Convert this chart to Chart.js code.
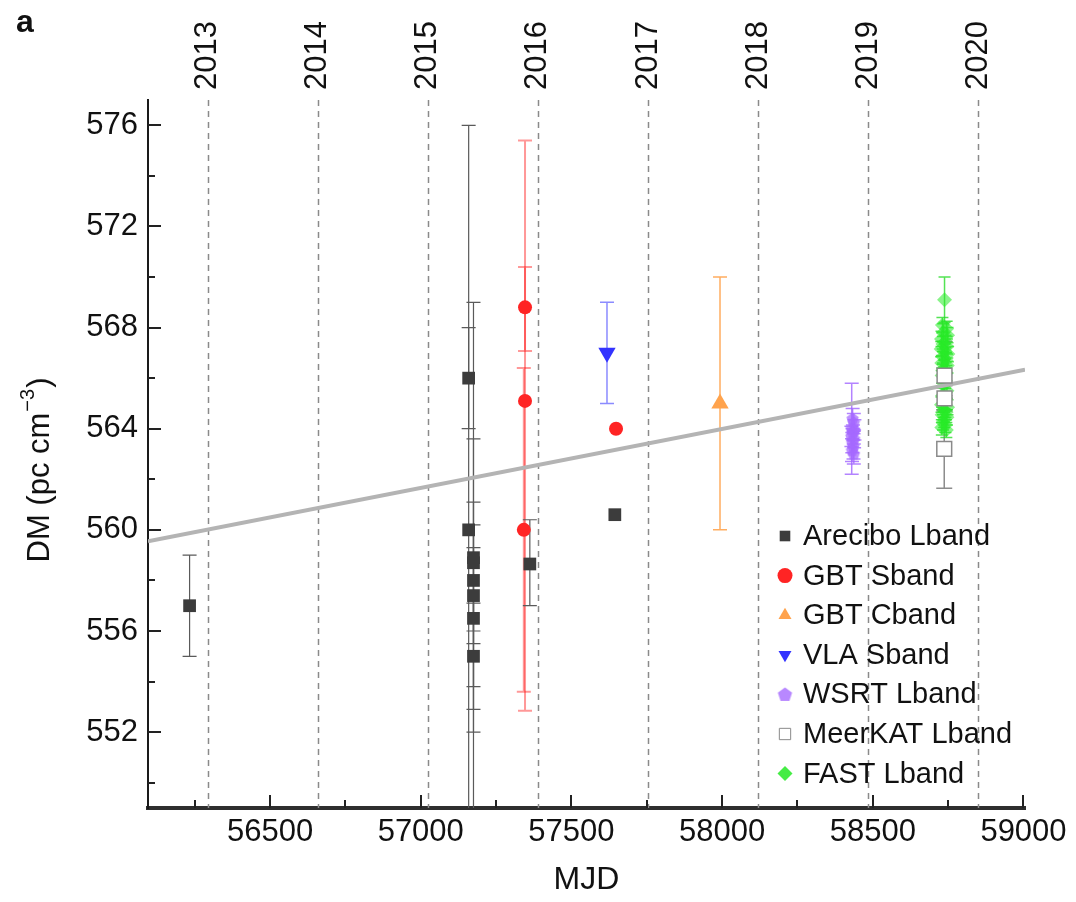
<!DOCTYPE html>
<html><head><meta charset="utf-8">
<script src="https://cdn.jsdelivr.net/npm/chart.js@4.4.0/dist/chart.umd.min.js"></script>
<style>html,body{margin:0;padding:0;background:#fff;}#wrap{width:1076px;height:902px;position:relative;}</style>
</head><body><div id="wrap"><canvas id="c" width="1076" height="902"></canvas></div>
<script>
const FONT = "'Liberation Sans', Arial, Helvetica, sans-serif";

// ---- axes / ticks ----
const yearLabels = ['2013','2014','2015','2016','2017','2018','2019','2020'];
const yearMJD = [56293, 56658, 57023, 57388, 57754, 58119, 58484, 58849];
const xTicks = [56500, 57000, 57500, 58000, 58500, 59000];
const xMinorTicks = [56250, 56750, 57250, 57750, 58250, 58750];
const yTicks = [552, 556, 560, 564, 568, 572, 576];
const yMinorTicks = [550, 554, 558, 562, 566, 570, 574];
const legendLabels = ['Arecibo Lband','GBT Sband','GBT Cband','VLA Sband','WSRT Lband','MeerKAT Lband','FAST Lband'];
const xTitle = 'MJD';
const yTitleMain = 'DM (pc cm';
const yTitleSup = '\u22123';

// ---- data ----
const areciboMJD   = [56233, 57159, 57159, 57175, 57175, 57175, 57175, 57175, 57175, 57362, 57644];
const areciboDM    = [557.0, 566.0, 560.0, 558.9, 558.7, 558.0, 557.4, 556.5, 555.0, 558.65, 560.6];
const areciboErrLo = [2.0, 2.0, 16.0, 5.1, 2.7, 6.0, 1.9, 12.5, 2.1, 1.65, 0];
const areciboErrHi = [2.0, 2.0, 16.0, 4.7, 2.4, 2.2, 1.9, 12.5, 2.1, 1.75, 0];

const gbtSMJD   = [57346, 57346, 57342, 57648];
const gbtSDM    = [568.8, 565.1, 560.0, 564.0];
const gbtSErrLo = [1.73, 12.25, 6.4, 0];
const gbtSErrHi = [1.6, 10.3, 6.4, 0];

const gbtCMJD = [57993];
const gbtCDM  = [565.0];
const gbtCErr = [5.0];

const vlaMJD = [57618];
const vlaDM  = [567.0];
const vlaErr = [2.0];

const wsrtMJD = [58433, 58437, 58430, 58439, 58434, 58429, 58438, 58432, 58436, 58431, 58437];
const wsrtDM  = [564.4, 564.25, 564.0, 563.95, 563.85, 563.7, 563.6, 563.45, 563.3, 563.15, 563.0];
const wsrtErr = [0.4, 0.35, 1.8, 0.4, 0.3, 0.4, 0.35, 0.4, 0.5, 0.45, 0.4];

const meerMJD   = [58738, 58738, 58737];
const meerDM    = [566.1, 565.2, 563.2];
const meerErrLo = [0.8, 0.5, 1.55];
const meerErrHi = [1.35, 0.5, 1.55];

const fastMJD = [58738, 58731, 58745, 58734, 58748, 58728, 58741, 58733, 58746, 58727, 58739, 58749, 58732, 58743, 58729, 58747, 58737, 58733, 58744, 58730,
                 58740, 58735, 58746, 58731, 58738, 58728, 58748, 58735, 58743, 58730, 58746, 58737, 58733, 58741, 58729, 58744];
const fastDM  = [569.1, 568.1, 567.95, 567.8, 567.7, 567.55, 567.45, 567.35, 567.25, 567.15, 567.05, 566.95, 566.85, 566.7, 566.6, 566.5, 566.4, 566.3, 566.2, 566.1,
                 565.9, 565.7, 565.5, 565.3, 565.1, 564.95, 564.85, 564.75, 564.65, 564.55, 564.45, 564.35, 564.25, 564.15, 564.05, 563.95];
const fastErr = [0.9, 0.3, 0.3, 0.35, 0.3, 0.3, 0.25, 0.3, 0.3, 0.3, 0.3, 0.3, 0.3, 0.3, 0.3, 0.3, 0.3, 0.3, 0.3, 0.3,
                 0.3, 0.3, 0.3, 0.3, 0.3, 0.3, 0.3, 0.3, 0.3, 0.3, 0.3, 0.3, 0.3, 0.3, 0.3, 0.3];

const fitMJD = [56095, 59005];
const fitDM  = [559.55, 566.33];

// ---- helpers ----
function pts(xs, ys){ return xs.map((x,i)=>({x:x, y:ys[i]})); }
function pentagon(r, fill){
  const c = document.createElement('canvas');
  const s = Math.ceil(r*2+2); c.width = s; c.height = s;
  const g = c.getContext('2d');
  g.beginPath();
  for (let k=0;k<5;k++){
    const a = -Math.PI/2 + k*2*Math.PI/5;
    const px = s/2 + r*Math.cos(a), py = s/2 + r*Math.sin(a)+0.5;
    if(k===0) g.moveTo(px,py); else g.lineTo(px,py);
  }
  g.closePath(); g.fillStyle = fill; g.fill();
  return c;
}
const pentStyle = pentagon(6.5, 'rgba(165,105,255,0.75)');
const pentLegend = pentagon(7.5, 'rgba(180,130,255,0.95)');

const datasets = [
  {label:legendLabels[5], data:pts(meerMJD, meerDM), pointStyle:'rect', pointRadius:10.5, backgroundColor:'#ffffff', borderColor:'#8a8a8a', borderWidth:1.5,
   errLo:meerErrLo, errHi:meerErrHi, errColor:'#8c8c8c', errWidth:1.5, cap:8, order:1},
  {label:'fit', type:'line', data:pts(fitMJD, fitDM), borderColor:'#b4b4b4', borderWidth:4, pointRadius:0, fill:false, order:2},
  {label:legendLabels[6], data:pts(fastMJD, fastDM), pointStyle:'rectRot', pointRadius:7.5, backgroundColor:'rgba(40,235,40,0.55)', borderWidth:0,
   errLo:fastErr, errHi:fastErr, errColor:'rgba(40,220,40,0.8)', errWidth:1.5, cap:6, order:3},
  {label:legendLabels[4], data:pts(wsrtMJD, wsrtDM), pointStyle:pentStyle, pointRadius:6, backgroundColor:'rgba(165,105,255,0.75)', borderWidth:0,
   errLo:wsrtErr, errHi:wsrtErr, errColor:'rgba(160,100,255,0.8)', errWidth:1.5, cap:7, order:4},
  {label:legendLabels[3], data:pts(vlaMJD, vlaDM), pointStyle:'triangle', rotation:180, pointRadius:10, backgroundColor:'#3333ff', borderWidth:0,
   errLo:vlaErr, errHi:vlaErr, errColor:'rgba(90,90,255,0.7)', errWidth:1.5, cap:7, order:5},
  {label:legendLabels[2], data:pts(gbtCMJD, gbtCDM), pointStyle:'triangle', pointRadius:10, backgroundColor:'#ffa34d', borderWidth:0,
   errLo:gbtCErr, errHi:gbtCErr, errColor:'#ffad60', errWidth:1.5, cap:7, order:6},
  {label:legendLabels[1], data:pts(gbtSMJD, gbtSDM), pointStyle:'circle', pointRadius:7, backgroundColor:'#ff2424', borderWidth:0,
   errLo:gbtSErrLo, errHi:gbtSErrHi, errColor:'rgba(255,10,10,0.42)', errWidth:2, cap:7, order:7},
  {label:legendLabels[0], data:pts(areciboMJD, areciboDM), pointStyle:'rect', pointRadius:9, backgroundColor:'#3c3c3c', borderWidth:0,
   errLo:areciboErrLo, errHi:areciboErrHi, errColor:'#5a5a5a', errWidth:1.2, cap:7, order:8}
];

// ---- plugins ----
const yearPlugin = {
  id:'years',
  beforeDatasetsDraw(chart){
    const {ctx, chartArea:a, scales:{x}} = chart;
    ctx.save();
    ctx.strokeStyle = '#8a8a8a'; ctx.lineWidth = 1.5; ctx.setLineDash([6,5]);
    yearMJD.forEach(m=>{
      const px = Math.round(x.getPixelForValue(m))+0.5;
      ctx.beginPath(); ctx.moveTo(px, a.top); ctx.lineTo(px, a.bottom); ctx.stroke();
    });
    ctx.restore();
  },
  afterDraw(chart){
    const {ctx, chartArea:a, scales:{x}} = chart;
    ctx.save();
    ctx.fillStyle = '#111'; ctx.font = '31px ' + FONT;
    ctx.textAlign = 'left'; ctx.textBaseline = 'middle';
    yearMJD.forEach((m,i)=>{
      const px = x.getPixelForValue(m);
      ctx.save(); ctx.translate(px, 90); ctx.rotate(-Math.PI/2);
      ctx.fillText(yearLabels[i], 0, 0); ctx.restore();
    });
    // y axis title with superscript
    ctx.save();
    ctx.translate(40, 470); ctx.rotate(-Math.PI/2);
    ctx.font = '31px ' + FONT;
    const w1 = ctx.measureText(yTitleMain).width;
    ctx.font = '20px ' + FONT;
    const w2 = ctx.measureText(yTitleSup).width;
    ctx.font = '31px ' + FONT;
    const w3 = ctx.measureText(')').width;
    const tot = w1 + w2 + w3 + 2;
    let sx = -tot/2;
    ctx.textAlign = 'left'; ctx.textBaseline = 'middle';
    ctx.fillText(yTitleMain, sx, 0); sx += w1 + 1;
    ctx.font = '20px ' + FONT; ctx.fillText(yTitleSup, sx, -12); sx += w2 + 1;
    ctx.font = '31px ' + FONT; ctx.fillText(')', sx, 0);
    ctx.restore();
    ctx.font = 'bold 32px ' + FONT; ctx.textAlign='left'; ctx.textBaseline='alphabetic';
    ctx.fillText('a', 16, 32);
    ctx.restore();
  }
};

const errPlugin = {
  id:'errbars',
  beforeDatasetsDraw(chart){
    const {ctx, chartArea:a, scales:{x,y}} = chart;
    ctx.save();
    ctx.beginPath(); ctx.rect(a.left, a.top, a.right-a.left, a.bottom-a.top); ctx.clip();
    chart.data.datasets.forEach(ds=>{
      if(!ds.errLo) return;
      ctx.strokeStyle = ds.errColor; ctx.lineWidth = ds.errWidth;
      ds.data.forEach((p,i)=>{
        const lo = ds.errLo[i], hi = ds.errHi[i];
        if(!lo && !hi) return;
        const px = x.getPixelForValue(p.x);
        const y1 = y.getPixelForValue(p.y + hi), y2 = y.getPixelForValue(p.y - lo);
        ctx.beginPath();
        ctx.moveTo(px, y1); ctx.lineTo(px, y2);
        ctx.moveTo(px-ds.cap, y1); ctx.lineTo(px+ds.cap, y1);
        ctx.moveTo(px-ds.cap, y2); ctx.lineTo(px+ds.cap, y2);
        ctx.stroke();
      });
    });
    ctx.restore();
  }
};

const tickPlugin = {
  id:'innerTicks',
  afterDraw(chart){
    const {ctx, chartArea:a, scales:{x,y}} = chart;
    ctx.save(); ctx.strokeStyle = '#222'; ctx.lineWidth = 2;
    const vt = (v, len)=>{ const px = Math.round(x.getPixelForValue(v)); ctx.beginPath(); ctx.moveTo(px, a.bottom); ctx.lineTo(px, a.bottom-len); ctx.stroke(); };
    const ht = (v, len)=>{ const py = Math.round(y.getPixelForValue(v)); ctx.beginPath(); ctx.moveTo(a.left, py); ctx.lineTo(a.left+len, py); ctx.stroke(); };
    xTicks.forEach(v=>vt(v,13)); xMinorTicks.forEach(v=>vt(v,8));
    yTicks.forEach(v=>ht(v,13)); yMinorTicks.forEach(v=>ht(v,7));
    ctx.restore();
  }
};

const legendPlugin = {
  id:'customLegend',
  afterDraw(chart){
    const {ctx} = chart;
    const order = [7,6,5,4,3,0,2];
    ctx.save();
    ctx.font = '29px ' + FONT; ctx.fillStyle = '#111'; ctx.textBaseline = 'middle'; ctx.textAlign = 'left';
    order.forEach((di,i)=>{
      const ds = chart.data.datasets[di];
      const yy = 536 + i*39.6;
      ctx.save();
      ctx.fillStyle = ds.backgroundColor; ctx.strokeStyle = ds.borderColor || ds.backgroundColor;
      let st = ds.pointStyle, r = 7.5;
      if (di===3) st = pentLegend;
      if (di===2) { ctx.fillStyle = 'rgba(60,235,60,0.95)'; r = 7.5; }
      if (di===0) r = 8;
      Chart.helpers.drawPoint(ctx, {pointStyle:st, radius:r, rotation:ds.rotation||0, borderWidth:ds.borderWidth||0}, 785, yy);
      ctx.restore();
      ctx.fillText(legendLabels[i], 803, yy+1);
    });
    ctx.restore();
  }
};

new Chart(document.getElementById('c'), {
  type:'scatter',
  data:{datasets:datasets},
  options:{
    responsive:false, animation:false, devicePixelRatio:1,
    layout:{padding:{top:100, right:51, left:0, bottom:0}},
    plugins:{legend:{display:false}, tooltip:{enabled:false}},
    scales:{
      x:{type:'linear', position:'bottom', min:56095, max:59005,
         afterBuildTicks:s=>{ s.ticks = xTicks.map(v=>({value:v})); },
         afterFit:s=>{ s.height = 94; },
         grid:{display:false, drawTicks:false},
         border:{display:true, color:'#2e2e2e', width:4},
         ticks:{font:{family:FONT, size:31}, color:'#111', padding:6, maxRotation:0, autoSkip:false, callback:v=>String(v)},
         title:{display:true, text:xTitle, font:{family:FONT, size:32}, color:'#111', padding:{top:0, bottom:3}}},
      y:{type:'linear', min:549, max:577,
         afterBuildTicks:s=>{ s.ticks = yTicks.map(v=>({value:v})); },
         afterFit:s=>{ s.width = 148; },
         grid:{display:false, drawTicks:false},
         border:{display:true, color:'#1a1a1a', width:2},
         ticks:{font:{family:FONT, size:31}, color:'#111', padding:10, autoSkip:false, callback:v=>String(v)},
         title:{display:false}}
    }
  },
  plugins:[yearPlugin, errPlugin, tickPlugin, legendPlugin]
});
</script></body></html>
